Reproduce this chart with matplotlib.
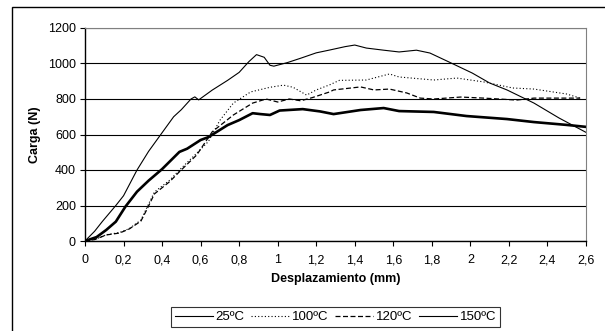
import matplotlib
matplotlib.use("Agg")
import matplotlib.pyplot as plt
from matplotlib.lines import Line2D
from matplotlib.patches import Rectangle

plt.rcParams['font.family'] = ['Liberation Sans', 'DejaVu Sans']

# 25ºC
x25 = [0, 0.05, 0.09, 0.16, 0.2, 0.27, 0.33, 0.4, 0.46, 0.5, 0.55, 0.57, 0.59, 0.66, 0.74,
       0.8, 0.85, 0.89, 0.93, 0.96, 0.98, 1.05, 1.12, 1.2, 1.27, 1.35, 1.4, 1.46, 1.55, 1.63,
       1.72, 1.79, 1.89, 2.01, 2.1, 2.19, 2.33, 2.46, 2.6]
y25 = [0, 55, 110, 200, 255, 400, 505, 610, 700, 740, 800, 812, 795, 850, 905,
       950, 1010, 1050, 1035, 990, 985, 1005, 1030, 1060, 1076, 1095, 1104, 1087, 1075, 1065,
       1075, 1059, 1008, 946, 890, 851, 777, 693, 612]

# 100ºC
x100 = [0, 0.05, 0.11, 0.18, 0.23, 0.29, 0.32, 0.36, 0.44, 0.49, 0.58, 0.64, 0.7, 0.77, 0.86,
        0.96, 1.03, 1.08, 1.15, 1.2, 1.27, 1.32, 1.46, 1.58, 1.63, 1.81, 1.93, 2.07, 2.22,
        2.33, 2.5, 2.57]
y100 = [0, 8, 35, 48, 70, 118, 186, 276, 343, 400, 495, 560, 680, 777, 840,
        866, 878, 866, 822, 851, 880, 905, 907, 941, 924, 907, 918, 896, 862,
        856, 828, 805]

# 120ºC
x120 = [0, 0.05, 0.11, 0.18, 0.23, 0.29, 0.32, 0.36, 0.44, 0.49, 0.58, 0.66, 0.77, 0.87,
        0.94, 1.0, 1.06, 1.12, 1.18, 1.27, 1.29, 1.43, 1.5, 1.58, 1.67, 1.74, 1.81, 1.95,
        2.07, 2.24, 2.33, 2.57]
y120 = [0, 8, 34, 45, 68, 112, 175, 265, 335, 390, 485, 615, 710, 777,
        800, 783, 800, 790, 808, 840, 851, 868, 851, 856, 834, 805, 800, 811,
        805, 794, 805, 805]

# 150ºC
x150 = [0, 0.06, 0.11, 0.16, 0.21, 0.27, 0.33, 0.4, 0.49, 0.53, 0.6, 0.64, 0.74, 0.8, 0.87,
        0.91, 0.96, 1.01, 1.13, 1.22, 1.29, 1.43, 1.55, 1.63, 1.81, 1.98, 2.19, 2.33, 2.5, 2.6]
y150 = [0, 22, 62, 109, 194, 278, 340, 405, 502, 520, 569, 585, 653, 681, 720,
        715, 710, 735, 743, 730, 715, 738, 749, 732, 727, 704, 687, 670, 654, 643]

labels = ['25ºC', '100ºC', '120ºC', '150ºC']
xticks = [0, 0.2, 0.4, 0.6, 0.8, 1, 1.2, 1.4, 1.6, 1.8, 2, 2.2, 2.4, 2.6]
xticklabels = ['0', '0,2', '0,4', '0,6', '0,8', '1', '1,2', '1,4', '1,6', '1,8', '2', '2,2', '2,4', '2,6']
yticks = [0, 200, 400, 600, 800, 1000, 1200]

W, H = 605, 331
fig = plt.figure(figsize=(W / 100, H / 100), dpi=100)
fig.patch.set_facecolor('white')

# outer frame
fig.patches.append(Rectangle((12 / W, -0.1), 1.2, (H - 7) / H + 0.1, transform=fig.transFigure,
                             fill=False, edgecolor='black', linewidth=1.0))

ax = fig.add_axes([85 / W, (H - 241) / H, (586 - 85) / W, (241 - 28) / H])
ax.set_xlim(0, 2.6)
ax.set_ylim(0, 1200)

ax.set_yticks(yticks)
ax.yaxis.grid(True, color='black', linewidth=0.8)
ax.set_axisbelow(True)
ax.set_xticks(xticks)
ax.set_xticklabels(xticklabels)
ax.tick_params(axis='both', direction='out', length=3.5, width=0.8, labelsize=9, colors='black')
ax.tick_params(axis='x', pad=6)
ax.tick_params(axis='y', pad=3)

for s in ['top', 'right']:
    ax.spines[s].set_color('#808080')
    ax.spines[s].set_linewidth(0.8)
for s in ['left', 'bottom']:
    ax.spines[s].set_color('black')
    ax.spines[s].set_linewidth(1.0)

l1, = ax.plot(x25, y25, color='black', linewidth=0.8)
l2, = ax.plot(x100, y100, color='black', linewidth=0.8, linestyle=(0, (1, 2)))
l3, = ax.plot(x120, y120, color='black', linewidth=0.9, linestyle=(0, (4, 2)))
l4, = ax.plot(x150, y150, color='black', linewidth=1.9)

ax.set_xlabel('Desplazamiento (mm)', fontsize=9, fontweight='bold', labelpad=5)
ax.set_ylabel('Carga (N)', fontsize=9, fontweight='bold', labelpad=5)

h4 = Line2D([0], [0], color='black', linewidth=0.8)
leg = fig.legend([l1, l2, l3, h4], labels, loc='center', bbox_to_anchor=(335.5 / W, (H - 317) / H),
                 ncol=4, fontsize=9.5, frameon=True, fancybox=False, edgecolor='black',
                 handlelength=2.9, handletextpad=0.2, columnspacing=0.5, borderpad=0.3,
                 borderaxespad=0)
leg.get_frame().set_linewidth(0.8)

fig.savefig('out.png', dpi=100)
